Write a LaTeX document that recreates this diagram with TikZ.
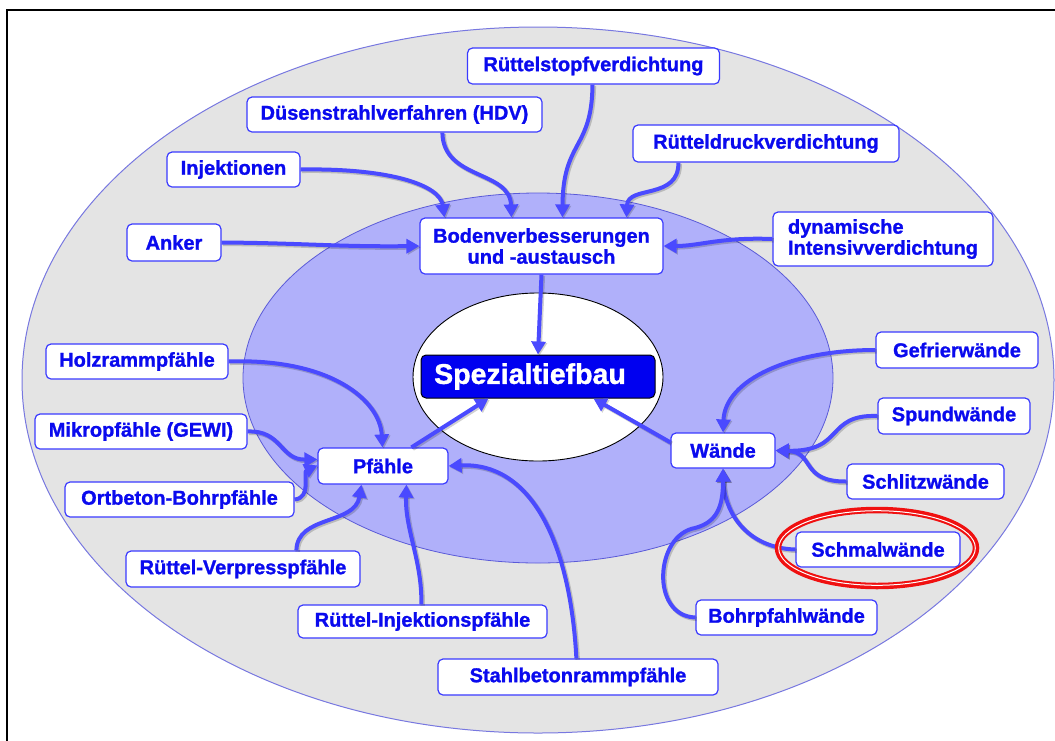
\documentclass[tikz,border=0pt]{standalone}
\usepackage{fontspec}
\setmainfont{Liberation Sans}
\newfontfamily\heavyfont[FakeBold=1.2]{Liberation Sans Bold}
\usetikzlibrary{arrows.meta}
\definecolor{outerfill}{HTML}{E4E4E4}
\definecolor{outerline}{HTML}{7878E0}
\definecolor{innerfill}{HTML}{B0B0FA}
\definecolor{innerline}{HTML}{5A5AD8}
\definecolor{connblue}{HTML}{4A4AFF}
\definecolor{boxline}{HTML}{3A3AFF}
\definecolor{boxtext}{HTML}{0A0AEE}
\definecolor{spezfill}{HTML}{0000F0}
\definecolor{ringred}{HTML}{F01010}
\begin{document}
\begin{tikzpicture}[x=1pt,y=-1pt,
  box/.style={draw=boxline, fill=white, rounded corners=5pt, line width=1.2pt,
    text=boxtext, font=\fontsize{20}{21}\selectfont\heavyfont, inner sep=0pt, align=center},
  conn/.style={draw=connblue, line width=4pt, -{Triangle[width=14pt,length=13pt]},
    preaction={draw=black, opacity=0.18, line width=4.5pt,
      transform canvas={shift={(1.3pt,-1.3pt)}}}},
]
\useasboundingbox (0,0) rectangle (1055,740);
\begin{scope}
\clip (0,0) rectangle (1055,740);
% frame
\draw[line width=2.5pt] (7,760) -- (7,10) -- (1070,10);
% rings
\draw[fill=outerfill, draw=outerline, line width=1pt] (538,380) ellipse [x radius=516, y radius=353];
\draw[fill=innerfill, draw=innerline, line width=0.8pt] (538,378) ellipse [x radius=295, y radius=185];
\draw[fill=white, draw=black, line width=0.9pt] (538,377) ellipse [x radius=125, y radius=84];
\end{scope}

% centre
\node[draw=black, fill=spezfill, rounded corners=5pt, line width=1pt, text=white,
  font=\fontsize{28.5}{30}\selectfont\heavyfont, inner sep=0pt,
  minimum width=234pt, minimum height=43pt] (spez) at (538,376.5) {Spezialtiefbau\hspace*{16pt}};

% main groups
\node[box, minimum width=243pt, minimum height=56pt] (boden) at (541.5,246) {Bodenverbesserungen\\und -austausch};
\node[box, minimum width=130pt, minimum height=36pt] (pfaehle) at (383,466) {Pfähle};
\node[box, minimum width=104pt, minimum height=35pt] (waende) at (723,450.5) {Wände};

% soil improvement methods
\node[box, minimum width=252pt, minimum height=36pt] (stopf) at (593.5,66) {Rüttelstopfverdichtung};
\node[box, minimum width=295pt, minimum height=35pt] (duesen) at (394.5,114.5) {Düsenstrahlverfahren (HDV)};
\node[box, minimum width=266pt, minimum height=37pt] (druck) at (766,143.5) {Rütteldruckverdichtung};
\node[box, minimum width=133pt, minimum height=35pt] (injekt) at (233.5,169.5) {Injektionen};
\node[box, minimum width=94pt, minimum height=37pt] (anker) at (174,242.5) {Anker};
\node[box, minimum width=220pt, minimum height=54pt, align=left] (dyn) at (883,239) {dynamische\\Intensivverdichtung};

% piles
\node[box, minimum width=182pt, minimum height=35pt] (holz) at (137,361.5) {Holzrammpfähle};
\node[box, minimum width=212pt, minimum height=35pt] (mikro) at (141,431.5) {Mikropfähle (GEWI)};
\node[box, minimum width=229pt, minimum height=35pt] (ortbeton) at (179.5,499.5) {Ortbeton-Bohrpfähle};
\node[box, minimum width=234pt, minimum height=36pt] (verpress) at (243,569) {Rüttel-Verpresspfähle};
\node[box, minimum width=249pt, minimum height=33pt] (rinj) at (422.5,621.5) {Rüttel-Injektionspfähle};
\node[box, minimum width=280pt, minimum height=36pt] (stahl) at (578,677) {Stahlbetonrammpfähle};

% walls
\node[box, minimum width=162pt, minimum height=36pt] (gefrier) at (957,350) {Gefrierwände};
\node[box, minimum width=152pt, minimum height=36pt] (spund) at (954,416) {Spundwände};
\node[box, minimum width=157pt, minimum height=35pt] (schlitz) at (925.5,481.5) {Schlitzwände};
\node[box, minimum width=164pt, minimum height=35pt] (schmal) at (878,549.5) {Schmalwände};
\node[box, minimum width=181pt, minimum height=35pt] (bohr) at (786.5,617.5) {Bohrpfahlwände};

% connectors into Bodenverbesserungen
\draw[conn] (anker.east) .. controls (300,243) and (340,247) .. (boden.west);
\draw[conn] (injekt.east) .. controls (390,168) and (440,185) .. ([xshift=25pt]boden.north west);
\draw[conn] ([xshift=196pt]duesen.south west) .. controls (443,180) and (510,170) .. ([xshift=92pt]boden.north west);
\draw[conn] ([xshift=-1pt]stopf.south) .. controls (592,150) and (563,140) .. ([xshift=143pt]boden.north west);
\draw[conn] ([xshift=46pt]druck.south west) .. controls (679,200) and (628,185) .. ([xshift=207pt]boden.north west);
\draw[conn] (dyn.west) .. controls (720,237) and (700,246) .. (boden.east);

% connectors into the centre
\draw[conn] (boden.south) -- (spez.north);
\draw[conn] ([xshift=94pt]pfaehle.north west) -- ([xshift=68pt]spez.south west);
\draw[conn] ([yshift=-10pt]waende.north west) -- ([xshift=173pt]spez.south west);

% connectors into Pfähle
\draw[conn] (holz.east) .. controls (330,358) and (380,400) .. ([xshift=65pt]pfaehle.north west);
\draw[conn] (mikro.east) .. controls (282,430) and (280,460) .. ([yshift=-12pt]pfaehle.north west);
\draw[conn] (ortbeton.east) .. controls (312,498) and (303,472) .. ([yshift=-18pt]pfaehle.north west);
\draw[conn] ([xshift=171pt]verpress.north west) .. controls (297,515) and (355,525) .. ([xshift=44pt]pfaehle.south west);
\draw[conn] ([xshift=124pt]rinj.north west) .. controls (422,560) and (405,530) .. ([xshift=89pt]pfaehle.south west);
\draw[conn] ([xshift=139pt]stahl.north west) .. controls (570,540) and (530,462) .. (pfaehle.east);

% connectors into Wände
\draw[conn] (gefrier.west) .. controls (790,350) and (725,380) .. (waende.north);
\draw[conn] (spund.west) .. controls (825,414) and (845,452) .. (waende.east);
\draw[conn] (schlitz.west) .. controls (800,482) and (815,452) .. (waende.east);
\draw[conn] (schmal.west) .. controls (745,548) and (724,510) .. (waende.south);
\draw[conn] (bohr.west) .. controls (650,616) and (655,535) .. (695,528)
  .. controls (718,522) and (723,505) .. (waende.south);

% highlight ring
\draw[ringred, line width=6.5pt] (877,548) ellipse [x radius=99, y radius=38];
\draw[white, line width=1pt] (877,548) ellipse [x radius=98.3, y radius=37.3];
\end{tikzpicture}
\end{document}
